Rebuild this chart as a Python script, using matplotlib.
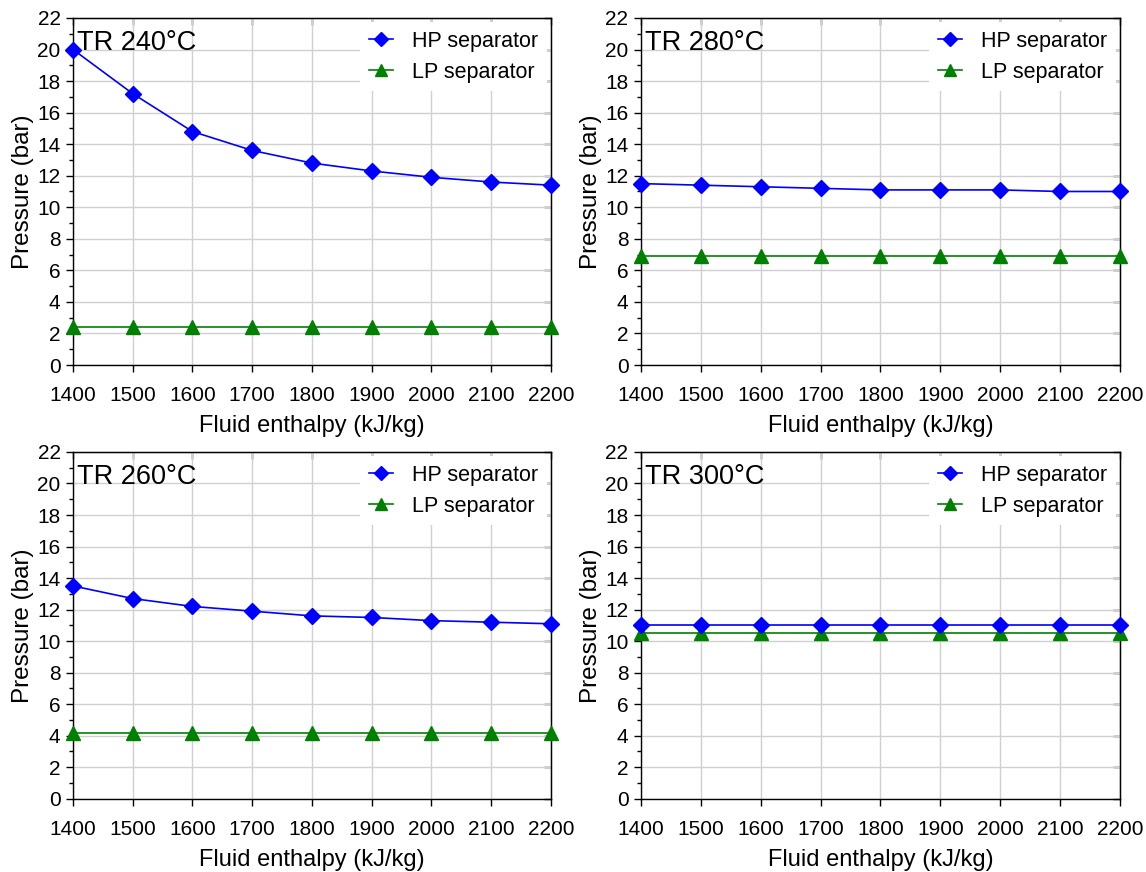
import matplotlib
matplotlib.use('Agg')
import matplotlib.pyplot as plt
from matplotlib.ticker import MultipleLocator

plt.rcParams['font.family'] = ['Liberation Sans', 'DejaVu Sans']

# Fluid enthalpy (kJ/kg)
enthalpy = [1400, 1500, 1600, 1700, 1800, 1900, 2000, 2100, 2200]

# Separator pressures (bar) for each reinjection temperature
hp_240 = [20.0, 17.2, 14.8, 13.6, 12.8, 12.3, 11.9, 11.6, 11.4]
lp_240 = [2.4, 2.4, 2.4, 2.4, 2.4, 2.4, 2.4, 2.4, 2.4]

hp_280 = [11.5, 11.4, 11.3, 11.2, 11.1, 11.1, 11.1, 11.0, 11.0]
lp_280 = [6.9, 6.9, 6.9, 6.9, 6.9, 6.9, 6.9, 6.9, 6.9]

hp_260 = [13.5, 12.7, 12.2, 11.9, 11.6, 11.5, 11.3, 11.2, 11.1]
lp_260 = [4.2, 4.2, 4.2, 4.2, 4.2, 4.2, 4.2, 4.2, 4.2]

hp_300 = [11.0, 11.0, 11.0, 11.0, 11.0, 11.0, 11.0, 11.0, 11.0]
lp_300 = [10.5, 10.5, 10.5, 10.5, 10.5, 10.5, 10.5, 10.5, 10.5]

panel_titles = ['TR 240°C', 'TR 280°C', 'TR 260°C', 'TR 300°C']
panel_hp = [hp_240, hp_280, hp_260, hp_300]
panel_lp = [lp_240, lp_280, lp_260, lp_300]

fig = plt.figure(figsize=(11.46, 8.72), dpi=100)

# Axes boxes [left, bottom, width, height] in figure fractions
boxes = [
    [0.0637, 0.5814, 0.4171, 0.3980],
    [0.5593, 0.5814, 0.4180, 0.3980],
    [0.0637, 0.0840, 0.4171, 0.3977],
    [0.5593, 0.0840, 0.4180, 0.3977],
]

for box, title, hp, lp in zip(boxes, panel_titles, panel_hp, panel_lp):
    ax = fig.add_axes(box)

    ax.plot(enthalpy, hp, color='#0000FF', marker='D', markersize=8.5,
            linewidth=1.2, label='HP separator', clip_on=False, zorder=4)
    ax.plot(enthalpy, lp, color='#008000', marker='^', markersize=9.5,
            linewidth=1.2, label='LP separator', clip_on=False, zorder=3)

    ax.set_xlim(1400, 2200)
    ax.set_ylim(0, 22)
    ax.xaxis.set_major_locator(MultipleLocator(100))
    ax.yaxis.set_major_locator(MultipleLocator(2))
    ax.yaxis.set_minor_locator(MultipleLocator(1))

    ax.grid(True, which='major', color='#d0d0d0', linewidth=1.0)
    ax.set_axisbelow(True)

    ax.tick_params(axis='both', which='major', labelsize=15, direction='out',
                   length=5, width=1)
    ax.tick_params(axis='x', which='major', pad=10)
    ax.tick_params(axis='y', which='major', pad=4)
    ax.tick_params(axis='y', which='minor', direction='out', length=3, width=1)

    # inward ticks on the top and right spines
    top = ax.secondary_xaxis('top')
    top.xaxis.set_major_locator(MultipleLocator(100))
    top.tick_params(direction='in', length=5, width=1, labeltop=False)
    right = ax.secondary_yaxis('right')
    right.yaxis.set_major_locator(MultipleLocator(2))
    right.tick_params(direction='in', length=5, width=1, labelright=False)

    for s in ax.spines.values():
        s.set_linewidth(1.0)

    ax.set_xlabel('Fluid enthalpy (kJ/kg)', fontsize=17, labelpad=7.5)
    ax.set_ylabel('Pressure (bar)', fontsize=17.5, labelpad=2)

    ax.text(0.008, 0.965, title, transform=ax.transAxes, fontsize=19.5,
            ha='left', va='top')

    leg = ax.legend(loc='upper right', fontsize=15.5, frameon=True,
                    fancybox=False, edgecolor='none', framealpha=1,
                    handlelength=1.1, handletextpad=0.9, borderaxespad=0.2,
                    labelspacing=0.45, borderpad=0.4, markerscale=0.85)

fig.savefig('out.png', dpi=100)
